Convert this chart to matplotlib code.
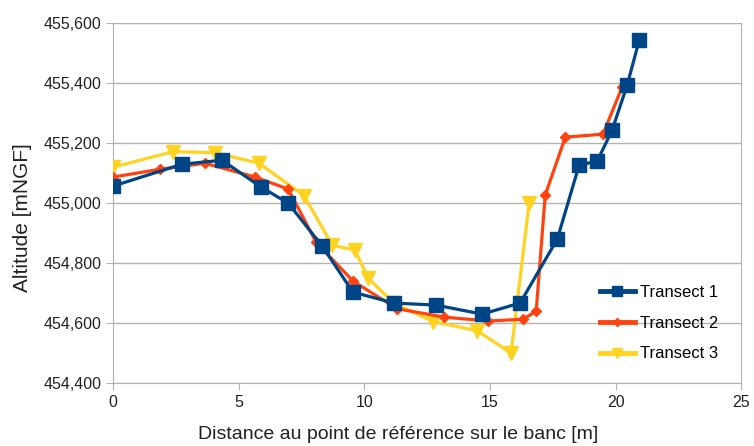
import numpy as np
import matplotlib.pyplot as plt
from matplotlib.ticker import FuncFormatter

plt.rcParams['font.family'] = ['Liberation Sans', 'DejaVu Sans']

# Transect 1
x1 = [0, 2.75, 4.34, 5.9, 6.97, 8.32, 9.55, 11.19, 12.86, 14.69, 16.2, 17.68, 18.55, 19.27, 19.86, 20.46, 20.94]
y1 = [455057, 455130, 455143, 455053, 455000, 454857, 454703, 454667, 454660, 454630, 454667, 454880, 455127, 455140, 455243, 455393, 455543]

# Transect 2
x2 = [0, 1.87, 3.66, 5.65, 6.97, 8.08, 9.55, 11.3, 13.18, 14.93, 16.32, 16.84, 17.2, 18.0, 19.5, 20.26]
y2 = [455087, 455113, 455133, 455087, 455047, 454870, 454740, 454648, 454620, 454607, 454613, 454640, 455027, 455220, 455230, 455387]

# Transect 3
x3 = [0, 2.39, 4.06, 5.81, 7.6, 8.72, 9.63, 10.15, 11.15, 12.74, 14.49, 15.84, 16.56]
y3 = [455120, 455172, 455168, 455133, 455025, 454860, 454843, 454750, 454668, 454605, 454575, 454500, 455000]

fig = plt.figure(figsize=(7.54, 4.46), dpi=100)
ax = fig.add_axes([0.150, 0.141, 0.833, 0.807])

ax.plot(x1, y1, '-s', color='#004586', lw=2.3, ms=9.5, label='Transect 1', zorder=5)
ax.plot(x2, y2, '-D', color='#ff420e', lw=2.3, ms=5.5, label='Transect 2', zorder=4)
ax.plot(x3, y3, '-v', color='#ffd320', lw=2.3, ms=9.5, label='Transect 3', zorder=3)

ax.set_xlim(0, 25)
ax.set_ylim(454400, 455600)
ax.set_xticks(np.arange(0, 26, 5))
ax.set_yticks(np.arange(454400, 455601, 200))
ax.yaxis.set_major_formatter(FuncFormatter(lambda v, p: f'{int(v):,}'))
ax.grid(axis='y', color='#b3b3b3', lw=1)
ax.set_axisbelow(True)
for s in ax.spines.values():
    s.set_color('#b3b3b3')
ax.tick_params(colors='#b3b3b3', labelcolor='#222222', labelsize=11.5, length=5)

ax.set_xlabel('Distance au point de référence sur le banc [m]', fontsize=14, color='#222222')
ax.set_ylabel('Altitude [mNGF]', fontsize=15, color='#222222')
ax.xaxis.set_label_coords(0.454, -0.12)
ax.yaxis.set_label_coords(-0.129, 0.46)

leg = ax.legend(loc='upper left', bbox_to_anchor=(0.751, 0.315), frameon=False,
                fontsize=12, handlelength=2.1, handletextpad=0.3, labelspacing=0.95,
                markerscale=0.75)
for line in leg.get_lines():
    line.set_linewidth(3.5)

fig.savefig('out.png', dpi=100)
